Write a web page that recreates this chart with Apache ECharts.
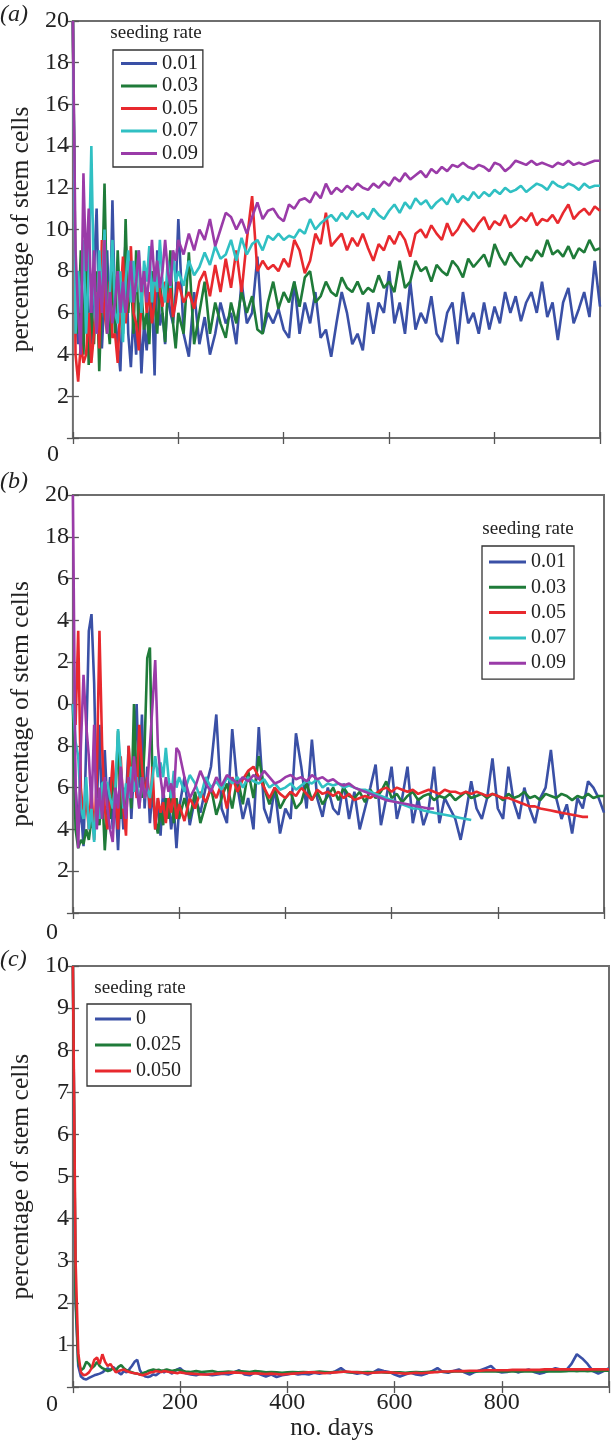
<!DOCTYPE html>
<html>
<head>
<meta charset="utf-8">
<script src="https://cdn.jsdelivr.net/npm/echarts@6/dist/echarts.min.js"></script>
<style>
html,body{margin:0;padding:0;background:#fff;}
#chart{width:612px;height:1442px;}
</style>
</head>
<body>
<div id="chart"></div>
<script>
// ---------------- data ----------------
const days = [0,5,10,15,20,25,30,35,40,45,50,55,60,65,70,75,80,85,90,95,100,105,110,115,120,125,130,135,140,145,150,155,160,165,170,175,180,185,190,195,200,
210,220,230,240,250,260,270,280,290,300,310,320,330,340,350,360,370,380,390,400,410,420,430,440,450,460,470,480,490,500,
510,520,530,540,550,560,570,580,590,600,610,620,630,640,650,660,670,680,690,700,710,720,730,740,750,760,770,780,790,800,
810,820,830,840,850,860,870,880,890,900,910,920,930,940,950,960,970,980,990,1000];

const ratesAB = ['0.01','0.03','0.05','0.07','0.09'];
const ratesC = ['0','0.025','0.050'];

// panel (a)
const aBlue = [20,6,4.5,7,5,9,6,4.5,8,11, 5.5,4.3,7,9,5,11.4,6,4.5,3.2,7, 9.5,5,3.4,6,4,6.5,3.1,5.5,4.2,6, 7,3,9,5.4,6,4.5,7,6,5.5,7, 10.5,
5,3.9,7,4.5,5.8,4,5,6.5,5.5,6, 4.5,7.5,5.5,6,8.7,5,6,5.5,6.2,5.2, 4.8,7.5,5,6.5,5.5,7,4.8,5.2,3.9,5.5, 7,6,4.5,5,4.2,6.5,5,6.5,6,8,
5.5,6.5,5,7.5,5.2,6,5.5,6.8,5,4.6, 6,6.5,4.5,7,5.5,6,5,6.5,5.2,6.3, 5.5,7,6,6.8,5.6,6.5,7,6,7.5,5.8, 6.5,4.7,6.5,7.2,5.5,6.2,7,5.8,8.5,6.3];
const aGreen = [20,7,5,9,4,8.5,3.5,6,4.5,8, 3.2,7,12.2,6,4.5,8,5,9,6,5, 10.5,6,8,5,9,4.8,7,5.2,6,4.5, 8,6.5,5,7.5,6,4.6,7,9,5.5,4.3, 6,
5,8.9,4.5,6,7.5,5,6.5,5.5,4.8,6.5, 5.5,7,6,6.8,5.2,5,6.5,7.5,6.2,7, 6.5,7.5,6.3,7.7,8,6.5,6.8,7.5,7,6.8, 7.7,7.2,7,7.5,6.9,7.2,7,7.8,7.2,7.5,
7,8.5,7.2,7.5,8.5,8,8.2,7.5,8.3,8, 7.8,8.5,8.2,7.7,8.6,8.2,8.5,8.8,8.2,9.3, 8.7,8.3,8.9,8.5,8.2,8.7,8.5,9,8.7,9.5, 8.8,9,8.7,9.2,8.6,9.1,8.9,9.5,9,9.1];
const aRed = [20,4,2.7,4.5,3.6,4,6,3.6,5,7, 4.3,9.5,6,5,7.5,4.8,5,3.6,6.5,8.7, 5.5,7,9.2,6,5.5,4.2,6.5,8,6,7, 5.5,6.5,8.5,7,6.3,7.5,6.5,7.2,5.8,6.5, 7.5,
6.5,7,6.2,7.5,8,6.8,8.3,7,8.6,7.2, 9,7,9.5,11.6,8,8.5,8.1,8.3,8,8.6, 8.2,9.5,9,7.9,8.5,9.8,9.3,10.8,9.2,9.5, 9.8,9,9.6,9.2,9.8,9.1,8.5,9.3,9,9.7,
9.3,9.9,9.5,8.7,9.8,10,9.6,10.2,9.8,9.5, 10.3,9.7,10,10.5,10.2,9.9,10.3,10.6,10,10.4, 10.2,10.7,10.1,10.3,10.6,10.4,10.8,10.2,10.5,10.4, 10.7,10.3,10.8,11.2,10.5,10.8,11,10.7,11.1,10.9];
const aCyan = [20,5,8,6,9.5,5,8,14,7,5, 9,6.5,10,5,7,9.5,6,5.5,8,4.6, 7.5,9,6.5,8.5,7,9,6,8.5,7.5,9.2, 6.5,8,7,9.5,7.5,6.5,8.5,7.2,8.8,7.5, 8,
7.3,8.5,7.8,8.2,8.9,8.3,9.2,8.6,8.8,9.5, 8.5,9.6,8.8,9.3,9.5,9,9.7,9.5,9.8,9.5, 9.7,9.6,10,9.8,10.5,10,10.3,10.5,10.7,10.4, 10.8,10.5,10.9,10.6,10.8,10.5,11,10.7,10.5,10.9,
11.2,10.8,11.3,11,11.5,11.2,11.4,11,11.3,11.5, 11.2,11.7,11.3,11.6,11.4,11.8,11.5,11.8,11.6,11.9, 11.7,12,11.8,11.9,12.1,11.8,12,12.2,12.1,11.9, 12.3,12.1,12,12.2,12.1,11.9,12.2,12,12.1,12.1];
const aPurple = [20,9,6,4,12.7,8,11,6,9,5, 8,6,9.5,5,7,5.5,6.5,8,6,7.5, 6,7,8.5,6.5,7.5,9,7,8,6.5,7.8, 9.5,7.5,8.5,7.2,8,9.5,8,7.3,9,8.5, 9.5,
8.8,9.8,9,10,9.5,10.5,9.2,10,10.8,10.6, 10,10.5,9.8,10.6,11.3,10.5,10.9,11,10.6,10.4, 11.2,11,11.4,11.5,11.3,11.8,11.5,12.2,11.7,12, 11.8,12.1,11.9,12.2,12,11.9,12.2,12,12.3,12.1,
12.5,12.3,12.7,12.4,12.6,12.8,12.5,12.9,12.7,13, 12.8,13.1,13,13.2,13,12.9,13.1,13,12.8,13.2, 13.1,12.8,13,13.3,13.2,13.1,13.3,13.1,13.2,13.1, 13,13.2,13.1,13.3,13.1,13.2,13.1,13.2,13.3,13.3];

// panel (b)
const bBlue = [10,6,4,5,3.2,8,13.5,14.3,11,5, 9,4.5,7.8,5,6.5,4,5.5,3,6,4, 5.5,8,4.5,7,10,6,9.5,5,7,4.3, 6,4,5.5,3.7,6,4.5,5.5,4,5,3.1, 5,
6.5,4.2,5.5,4.8,6,7,9.5,5,4.3,8.8, 6,4.5,5.5,4,8.9,5,4.3,6,3.8,5, 4.5,8.6,7,5,8.3,5.5,4.6,6,5,4.7, 6.2,4.5,5.8,4,5,6,7.1,4.2,5.5,7,
4.5,5.5,7,4.3,5.5,4.2,5,7,4.3,5.5, 5,4.5,3.5,4.8,6.3,5,4.5,5.5,7.4,5, 4.5,7,5.3,4.5,6,5,4.3,5.5,6,7.8, 5.5,4.5,5.2,3.8,5.5,5,6.3,6,5.5,4.8];
const bGreen = [10,4,3.1,3.5,3.3,4,3.5,4.5,3.8,5, 4.2,6,3,5,4.5,6.5,5.5,8.7,4.5,6, 4.8,7,5,10,6,8,5.5,8,12.2,12.7, 6,4.5,3.8,5,4.2,5.5,4.5,6,4.3,5.5, 4.5,
5.5,4.5,5.8,4.3,5.2,6,4.7,5.5,6.2,5, 6.5,5.2,6.8,5.5,7.5,6,5.2,6,5,5.5, 5.8,5,5.3,6.2,5.4,5.8,5.2,5.6,6,5.4, 6,5.6,5.5,5.8,5.3,5.9,5.5,5.8,6.3,5.5,
5.7,5.3,5.6,5.8,5.4,5.6,5.7,5.4,5.6,5.5, 5.7,5.4,5.6,5.8,5.5,5.6,5.7,5.5,5.7,5.6, 5.4,5.7,5.5,5.6,5.8,5.5,5.6,5.4,5.7,5.6, 5.5,5.7,5.6,5.4,5.6,5.5,5.7,5.5,5.6,5.6];
const bRed = [10,9,13.5,6,4.5,5.5,4,6,3.5,6.5, 13.5,8,5,4,5.5,7.3,5.5,4,7.5,5, 3.7,8,6,7,5.5,9,7,5.5,6.5,5, 7,4,5.5,4.8,5.3,4.3,5.5,4.8,5.8,4.5, 5.2,
4.4,5.5,5,5.8,5.3,6,5.5,6.2,5,6.5, 5.8,6.4,6.8,7,6.5,6,5.5,6,5.7,5.5, 5.8,5.6,6,5.7,5.4,5.9,5.7,5.8,5.6,5.8, 5.5,5.7,5.4,5.5,5.6,5.5,5.7,5.9,6,5.8,
6,5.9,5.8,5.9,5.7,5.8,5.9,5.8,5.7,5.9, 5.8,5.8,5.7,5.8,5.7,5.8,5.7,5.6,5.7,5.6, 5.5,5.5,5.4,5.3,5.2,5.1,5.1,5.0,4.95,4.9, 4.85,4.8,4.75,4.7,4.65,4.6,4.6,null,null,null];
const bCyan = [10,8.2,7.5,5,4.5,6.5,4,5,3.4,5.5, 4.5,6.2,6.3,6.2,5.5,5,6,8.8,7,5, 6.2,5.5,7,5.8,6.5,5,6.5,5.5,6,5.5, 6.5,7.5,6.5,7.2,6.5,7.9,6.5,5.5,6.8,6, 6.5,
5.8,6.6,6.2,5.5,6.5,6,6.3,5.9,6.5,6.2, 6.5,6,6.5,6.3,6.2,6.4,6,6.2,5.9,6, 6.2,5.9,6.1,6.3,6.2,6.4,6,6.2,6.1,6.2, 6,6.1,6,5.9,5.9,5.8,5.7,5.6,5.5,5.4,
5.3,5.2,5.1,5.0,5.0,4.9,4.85,4.8,4.75,4.7, 4.65,4.6,4.55,4.5,4.45,null,null,null,null,null, null,null,null,null,null,null,null,null,null,null, null,null,null,null,null,null,null,null,null,null];
const bPurple = [20,6,3.1,8,11.4,9,7.5,5,9,4, 6,4.5,6.5,5,4,3.4,6,5,7,5.5, 4.5,6.5,5.5,7.5,6,5,6.5,5.5,6,8, 10,12.1,8,6.5,5.5,6.5,5.8,6.2,5.5,7.9, 7.7,
6.5,5.5,6,6.8,6.2,5.8,6.5,6.1,6.6,6.4, 6.2,6.5,6.3,6.6,6.4,6.8,6.5,6.2,6.3,6.5, 6.6,6.4,6.5,6.3,6.6,6.4,6.5,6.3,6.4,6.2, 6.1,6.2,6,5.9,5.8,5.7,5.6,5.5,5.4,5.35,
5.3,5.25,5.2,5.15,5.1,5.05,5.0,5.0,null,null, null,null,null,null,null,null,null,null,null,null, null,null,null,null,null,null,null,null,null,null, null,null,null,null,null,null,null,null,null,null];

// panel (c)
const cBlue = [10,2,0.5,0.25,0.2,0.18,0.22,0.25,0.28,0.3, 0.32,0.35,0.4,0.45,0.4,0.48,0.42,0.35,0.3,0.38, 0.35,0.42,0.5,0.6,0.65,0.4,0.3,0.25,0.24,0.26, 0.3,0.28,0.33,0.38,0.35,0.4,0.36,0.32,0.38,0.42, 0.45,
0.33,0.3,0.28,0.32,0.3,0.28,0.3,0.32,0.3,0.34, 0.4,0.3,0.28,0.35,0.3,0.25,0.3,0.24,0.28,0.3, 0.33,0.3,0.32,0.3,0.34,0.32,0.35,0.33,0.38,0.45, 0.36,0.35,0.32,0.34,0.3,0.35,0.42,0.38,0.36,0.3,
0.25,0.3,0.34,0.3,0.28,0.32,0.38,0.45,0.36,0.34, 0.38,0.42,0.35,0.3,0.36,0.4,0.45,0.5,0.38,0.35, 0.36,0.4,0.35,0.38,0.42,0.36,0.32,0.35,0.4,0.45, 0.42,0.4,0.55,0.78,0.68,0.55,0.38,0.32,0.38,0.45];
const cGreen = [10,2.2,0.6,0.4,0.45,0.6,0.55,0.45,0.5,0.6, 0.5,0.45,0.42,0.38,0.4,0.45,0.4,0.48,0.52,0.45, 0.4,0.38,0.35,0.33,0.32,0.3,0.33,0.35,0.38,0.4, 0.42,0.4,0.41,0.39,0.4,0.42,0.4,0.38,0.4,0.41, 0.4,
0.37,0.36,0.38,0.36,0.37,0.38,0.35,0.36,0.37,0.36, 0.38,0.37,0.36,0.38,0.37,0.35,0.36,0.35,0.34,0.35, 0.36,0.35,0.36,0.35,0.36,0.37,0.36,0.35,0.36,0.37, 0.36,0.35,0.36,0.35,0.36,0.35,0.36,0.35,0.34,0.35,
0.35,0.34,0.35,0.36,0.35,0.36,0.37,0.36,0.37,0.36, 0.37,0.38,0.37,0.36,0.37,0.38,0.37,0.38,0.37,0.38, 0.37,0.38,0.37,0.38,0.37,0.38,0.37,0.38,0.37,0.38, 0.37,0.38,0.39,0.38,0.39,0.38,0.39,0.38,0.39,0.39];
const cRed = [10,3,0.8,0.35,0.28,0.3,0.35,0.45,0.65,0.7, 0.55,0.78,0.6,0.5,0.55,0.45,0.35,0.38,0.4,0.42, 0.38,0.36,0.34,0.33,0.32,0.3,0.28,0.3,0.32,0.35, 0.36,0.38,0.37,0.36,0.38,0.37,0.36,0.35,0.34,0.33, 0.35,
0.33,0.32,0.31,0.3,0.3,0.31,0.32,0.33,0.34,0.35, 0.34,0.33,0.32,0.33,0.32,0.31,0.32,0.31,0.3,0.31, 0.32,0.33,0.34,0.35,0.35,0.34,0.33,0.34,0.35,0.36, 0.37,0.36,0.35,0.34,0.33,0.34,0.35,0.36,0.35,0.34,
0.33,0.32,0.33,0.34,0.33,0.34,0.35,0.36,0.37,0.37, 0.38,0.38,0.38,0.39,0.39,0.39,0.4,0.4,0.4,0.4, 0.4,0.41,0.41,0.41,0.41,0.41,0.41,0.42,0.42,0.42, 0.42,0.42,0.42,0.42,0.42,0.42,0.42,0.42,0.42,0.42];

// tick labels
const yTicksA = ['', '2', '4', '6', '8', '10', '12', '14', '16', '18', '20'];
const yTicksB = ['', '2', '4', '6', '8', '0', '2', '4', '6', '18', '20'];
const yTicksC = ['', '1', '2', '3', '4', '5', '6', '7', '8', '9', '10'];
const xTicksC = ['200', '400', '600', '800'];
const panelLetters = ['(a)', '(b)', '(c)'];
const yTitle = 'percentage of stem cells';
const xTitle = 'no. days';
const legendTitle = 'seeding rate';

// ---------------- style ----------------
const FONT = 'Liberation Serif, Times New Roman, serif';
const colorsAB = ['#3a50a6', '#1f7b39', '#e8292e', '#30c0c3', '#9a3ba8'];
const colorsC = ['#3a50a6', '#1f7b39', '#e8292e'];

const grids = [
  {left: 66, top: 21, width: 534, height: 417},
  {left: 67, top: 495, width: 537, height: 418},
  {left: 66, top: 966, width: 545, height: 423}
];

const tick = {show: true, inside: true, length: 6, lineStyle: {color: '#555', width: 1.3}};

const xAxis = [], yAxis = [];
grids.forEach((g, i) => {
  xAxis.push({
    type: 'value', gridIndex: i, min: 0, max: 1000, interval: 200, position: 'bottom',
    axisLine: {show: false}, splitLine: {show: false}, axisTick: tick,
    axisLabel: {
      show: i === 2, margin: 4, fontFamily: FONT, fontSize: 24, color: '#222',
      formatter: v => xTicksC.includes(String(v)) ? String(v) : ''
    },
    name: i === 2 ? xTitle : '', nameLocation: 'middle', nameGap: 28,
    nameTextStyle: {fontFamily: FONT, fontSize: 25, color: '#222', padding: [0, 18, 0, 0]}
  });
  xAxis.push({
    type: 'value', gridIndex: i, min: 0, max: 1000, interval: 200, position: 'top',
    axisLine: {show: false}, splitLine: {show: false}, axisTick: tick, axisLabel: {show: false}
  });
  const ymax = i === 2 ? 10 : 20;
  const yint = i === 2 ? 1 : 2;
  const labels = [yTicksA, yTicksB, yTicksC][i];
  yAxis.push({
    type: 'value', gridIndex: i, min: 0, max: ymax, interval: yint, position: 'left',
    axisLine: {show: false}, splitLine: {show: false}, axisTick: tick,
    axisLabel: {
      margin: 4, fontFamily: FONT, fontSize: 24, color: '#222',
      formatter: v => labels[Math.round(v / yint)] || ''
    },
    name: yTitle, nameLocation: 'middle', nameGap: 38,
    nameTextStyle: {fontFamily: FONT, fontSize: 25.5, color: '#222'}
  });
  yAxis.push({
    type: 'value', gridIndex: i, min: 0, max: ymax, interval: yint, position: 'right',
    axisLine: {show: false}, splitLine: {show: false}, axisTick: tick, axisLabel: {show: false}
  });
});

function pairs(arr) { return days.map((d, k) => [d, arr[k]]); }

const series = [];
const panelA = [aBlue, aGreen, aRed, aCyan, aPurple];
const panelB = [bBlue, bGreen, bRed, bCyan, bPurple];
const panelC = [cBlue, cGreen, cRed];
function addSeries(prefix, arrs, names, colors, gi) {
  arrs.forEach((arr, k) => {
    series.push({
      type: 'line', name: prefix + names[k], xAxisIndex: gi * 2, yAxisIndex: gi * 2,
      data: pairs(arr), showSymbol: false, symbol: 'none', connectNulls: false,
      lineStyle: {width: 2.6, color: colors[k]}, itemStyle: {color: colors[k]},
      clip: true, z: 2 + k
    });
  });
}
addSeries('a', panelA, ratesAB, colorsAB, 0);
addSeries('b', panelB, ratesAB, colorsAB, 1);
addSeries('c', panelC, ratesC, colorsC, 2);

function legendCfg(prefix, names, pos) {
  return Object.assign({
    orient: 'vertical', icon: 'rect', itemHeight: 3,
    data: names.map(n => prefix + n),
    formatter: n => n.slice(1),
    borderColor: '#333', borderWidth: 1.3, borderRadius: 0,
    backgroundColor: '#fff', selectedMode: false
  }, pos);
}

const legend = [
  legendCfg('a', ratesAB, {left: 113, top: 50, itemWidth: 36, itemGap: 1.5, padding: [3, 5, 3, 8],
    textStyle: {fontFamily: FONT, color: '#222', fontSize: 20.5, lineHeight: 20}}),
  legendCfg('b', ratesAB, {left: 482, top: 546, itemWidth: 37, itemGap: 5.3, padding: [6, 8, 6, 7],
    textStyle: {fontFamily: FONT, color: '#222', fontSize: 20, lineHeight: 20}}),
  legendCfg('c', ratesC, {left: 87, top: 1004, itemWidth: 36, itemGap: 6, padding: [5, 10, 5, 8],
    textStyle: {fontFamily: FONT, color: '#222', fontSize: 20, lineHeight: 20}})
];

function txt(x, y, s, size, align, style) {
  return {type: 'text', x: x, y: y, z: 100,
    style: {text: s, fontFamily: FONT, fontSize: size, fill: '#222', align: align || 'center',
      verticalAlign: 'middle', fontStyle: style || 'normal'}};
}
const graphic = [
  txt(0, 15, panelLetters[0], 24, 'left', 'italic'),
  txt(0, 482, panelLetters[1], 24, 'left', 'italic'),
  txt(0, 960, panelLetters[2], 24, 'left', 'italic'),
  txt(53, 455, '0', 24),
  txt(52, 933, '0', 24),
  txt(52, 1405, '0', 24),
  txt(156, 33, legendTitle, 19),
  txt(528, 529, legendTitle, 19),
  txt(140, 988, legendTitle, 19)
];

const chart = echarts.init(document.getElementById('chart'), null, {renderer: 'canvas'});
chart.setOption({
  animation: false,
  backgroundColor: '#fff',
  grid: grids.map(g => Object.assign({show: true, borderColor: '#6e6e6e', borderWidth: 2, backgroundColor: '#fff', containLabel: false}, g)),
  xAxis: xAxis,
  yAxis: yAxis,
  legend: legend,
  graphic: graphic,
  series: series
});
</script>
</body>
</html>
